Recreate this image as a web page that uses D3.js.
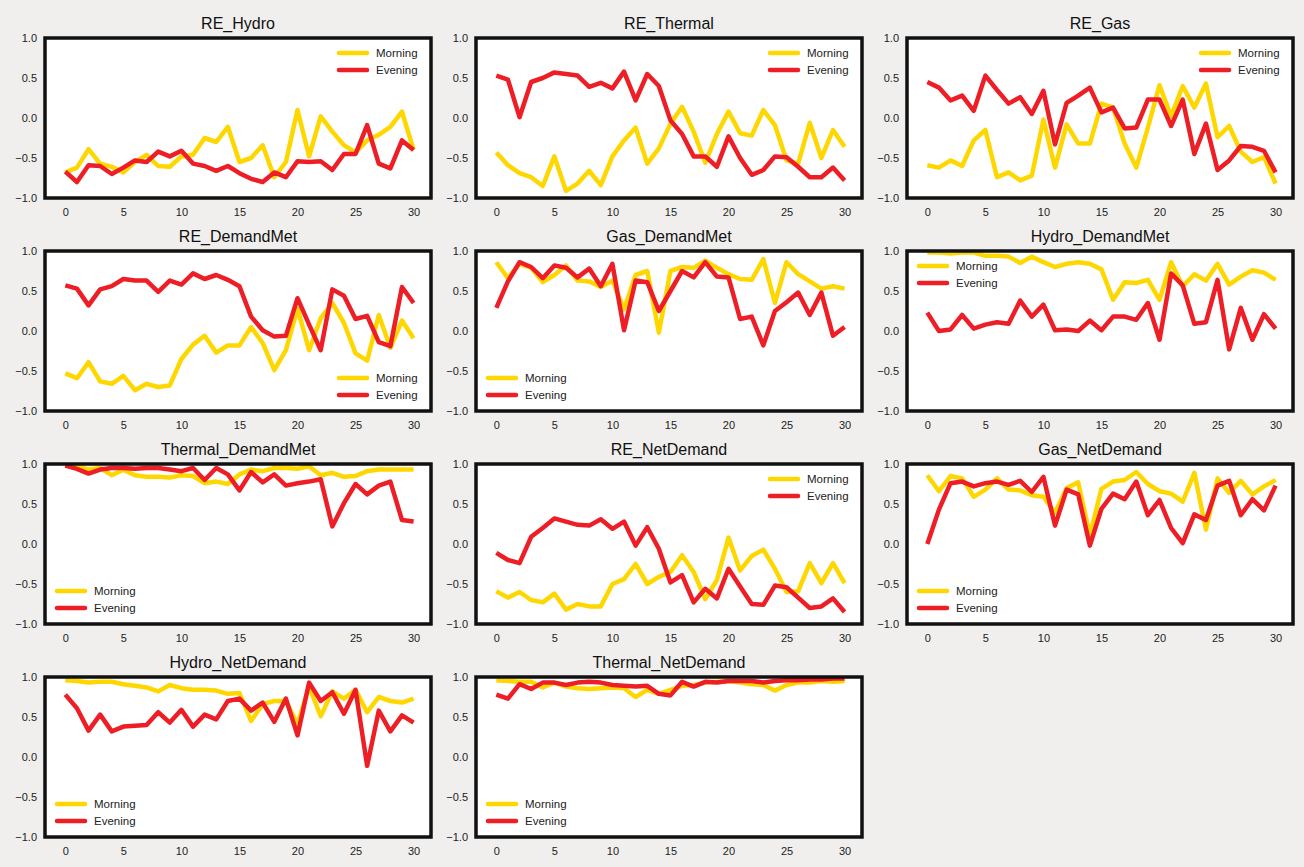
<!DOCTYPE html>
<html>
<head>
<meta charset="utf-8">
<script src="https://cdn.jsdelivr.net/npm/d3@7"></script>
<style>
  body { margin: 0; background: #fff; }
  svg { display: block; }
</style>
</head>
<body>
<svg id="chart" width="1304" height="867"></svg>
<script>
var titles = ['RE_Hydro', 'RE_Thermal', 'RE_Gas', 'RE_DemandMet', 'Gas_DemandMet', 'Hydro_DemandMet',
	'Thermal_DemandMet', 'RE_NetDemand', 'Gas_NetDemand', 'Hydro_NetDemand', 'Thermal_NetDemand'];
var legendPos = ['ur', 'ur', 'ur', 'lr', 'll', 'ul', 'll', 'ur', 'll', 'll', 'll'];
var seriesNames = ['Morning', 'Evening'];
var xTicks = [0, 5, 10, 15, 20, 25, 30];
var yTicks = [-1.0, -0.5, 0.0, 0.5, 1.0];

var morning = [
	[-0.68,-0.62,-0.39,-0.57,-0.61,-0.68,-0.55,-0.46,-0.6,-0.61,-0.48,-0.46,-0.25,-0.3,-0.11,-0.55,-0.5,-0.34,-0.74,-0.55,0.1,-0.48,0.02,-0.17,-0.34,-0.43,-0.28,-0.21,-0.11,0.08,-0.4],
	[-0.43,-0.59,-0.69,-0.74,-0.85,-0.48,-0.91,-0.82,-0.66,-0.84,-0.48,-0.28,-0.12,-0.57,-0.38,-0.07,0.14,-0.17,-0.56,-0.2,0.08,-0.19,-0.22,0.1,-0.09,-0.53,-0.57,-0.06,-0.5,-0.15,-0.36],
	[-0.59,-0.62,-0.53,-0.6,-0.28,-0.15,-0.74,-0.68,-0.78,-0.72,-0.02,-0.62,-0.08,-0.32,-0.32,0.18,0.13,-0.32,-0.62,-0.12,0.41,0.02,0.4,0.13,0.43,-0.24,-0.1,-0.42,-0.55,-0.49,-0.82],
	[-0.53,-0.59,-0.39,-0.63,-0.66,-0.56,-0.74,-0.66,-0.7,-0.68,-0.35,-0.17,-0.06,-0.27,-0.18,-0.18,0.05,-0.15,-0.49,-0.24,0.28,-0.24,0.16,0.35,0.1,-0.28,-0.37,0.2,-0.21,0.13,-0.09],
	[0.86,0.66,0.84,0.79,0.61,0.7,0.82,0.63,0.62,0.55,0.63,0.27,0.7,0.75,-0.02,0.75,0.8,0.79,0.88,0.79,0.71,0.65,0.64,0.9,0.35,0.86,0.71,0.62,0.53,0.56,0.53],
	[0.98,0.98,0.97,0.98,0.98,0.94,0.94,0.93,0.85,0.93,0.86,0.8,0.84,0.86,0.84,0.77,0.39,0.61,0.6,0.64,0.39,0.86,0.56,0.71,0.63,0.84,0.58,0.68,0.76,0.73,0.64],
	[0.98,0.98,0.93,0.95,0.86,0.93,0.86,0.84,0.84,0.83,0.86,0.85,0.76,0.78,0.75,0.87,0.93,0.91,0.95,0.95,0.94,0.97,0.86,0.89,0.84,0.85,0.91,0.93,0.93,0.93,0.93],
	[-0.59,-0.67,-0.6,-0.7,-0.73,-0.62,-0.82,-0.75,-0.78,-0.78,-0.5,-0.44,-0.25,-0.5,-0.41,-0.35,-0.14,-0.35,-0.69,-0.45,0.08,-0.33,-0.15,-0.07,-0.31,-0.6,-0.59,-0.24,-0.49,-0.24,-0.49],
	[0.86,0.66,0.85,0.82,0.59,0.68,0.82,0.68,0.67,0.61,0.59,0.39,0.7,0.77,0.11,0.69,0.78,0.8,0.9,0.75,0.66,0.63,0.53,0.89,0.18,0.82,0.64,0.79,0.62,0.72,0.8],
	[0.96,0.95,0.93,0.94,0.94,0.91,0.89,0.87,0.82,0.9,0.86,0.84,0.84,0.83,0.79,0.8,0.45,0.66,0.7,0.7,0.41,0.88,0.51,0.82,0.73,0.84,0.56,0.75,0.7,0.68,0.73],
	[0.96,0.95,0.94,0.94,0.87,0.93,0.88,0.86,0.85,0.86,0.87,0.86,0.75,0.84,0.79,0.84,0.89,0.9,0.93,0.94,0.95,0.93,0.91,0.9,0.83,0.9,0.93,0.93,0.95,0.94,0.95]
];

var evening = [
	[-0.67,-0.8,-0.59,-0.6,-0.7,-0.62,-0.53,-0.55,-0.42,-0.48,-0.41,-0.57,-0.6,-0.66,-0.6,-0.69,-0.76,-0.8,-0.68,-0.74,-0.54,-0.55,-0.54,-0.65,-0.45,-0.45,-0.09,-0.57,-0.63,-0.28,-0.4],
	[0.53,0.48,0.01,0.45,0.5,0.57,0.55,0.53,0.39,0.44,0.37,0.58,0.22,0.55,0.4,-0.03,-0.2,-0.48,-0.48,-0.61,-0.23,-0.5,-0.71,-0.65,-0.48,-0.49,-0.61,-0.74,-0.74,-0.62,-0.78],
	[0.45,0.38,0.22,0.28,0.09,0.53,0.35,0.18,0.26,0.05,0.34,-0.33,0.19,0.28,0.38,0.07,0.13,-0.13,-0.12,0.23,0.23,-0.1,0.23,-0.45,-0.07,-0.65,-0.53,-0.35,-0.36,-0.41,-0.68],
	[0.57,0.53,0.32,0.52,0.56,0.65,0.63,0.63,0.49,0.63,0.58,0.72,0.65,0.7,0.64,0.56,0.18,0.01,-0.07,-0.06,0.41,0.08,-0.24,0.52,0.44,0.15,0.19,-0.14,-0.19,0.55,0.35],
	[0.29,0.62,0.86,0.8,0.66,0.82,0.79,0.67,0.78,0.56,0.84,0.01,0.63,0.61,0.25,0.5,0.75,0.67,0.86,0.68,0.67,0.15,0.18,-0.18,0.25,0.36,0.48,0.2,0.48,-0.06,0.05],
	[0.23,0.0,0.02,0.2,0.03,0.08,0.11,0.09,0.38,0.18,0.33,0.01,0.02,0.0,0.13,0.01,0.18,0.18,0.14,0.35,-0.11,0.72,0.57,0.09,0.11,0.64,-0.23,0.29,-0.11,0.21,0.03],
	[0.98,0.94,0.88,0.93,0.95,0.95,0.94,0.95,0.95,0.93,0.91,0.95,0.8,0.95,0.87,0.67,0.9,0.77,0.87,0.73,0.76,0.78,0.81,0.22,0.51,0.75,0.62,0.73,0.78,0.3,0.28],
	[-0.11,-0.2,-0.24,0.09,0.2,0.32,0.28,0.24,0.23,0.31,0.19,0.28,-0.02,0.21,-0.06,-0.48,-0.39,-0.73,-0.56,-0.68,-0.31,-0.53,-0.75,-0.76,-0.52,-0.54,-0.67,-0.8,-0.78,-0.68,-0.85],
	[0.0,0.43,0.76,0.78,0.72,0.76,0.78,0.74,0.79,0.65,0.84,0.23,0.68,0.62,-0.02,0.44,0.63,0.56,0.78,0.36,0.55,0.2,0.01,0.37,0.3,0.73,0.79,0.36,0.56,0.42,0.73],
	[0.78,0.61,0.33,0.53,0.32,0.38,0.39,0.4,0.56,0.43,0.59,0.38,0.53,0.47,0.7,0.73,0.58,0.68,0.44,0.73,0.27,0.93,0.7,0.81,0.54,0.84,-0.11,0.58,0.32,0.52,0.43],
	[0.78,0.73,0.91,0.85,0.93,0.93,0.9,0.93,0.94,0.93,0.9,0.89,0.88,0.89,0.79,0.77,0.94,0.88,0.94,0.93,0.95,0.95,0.95,0.93,0.95,0.96,0.96,0.97,0.97,0.98,0.98]
];

var colors = ['#ffd700', '#ee1e26'];

var svg = d3.select('#chart');
svg.append('rect')
	.attr('width', 1304).attr('height', 867)
	.attr('fill', '#f0efed');

var colX = [45, 476, 907];
var rowY = [38, 251, 464, 677];
var pw = 386, ph = 160;

titles.forEach(function(title, i) {
	var px = colX[i % 3], py = rowY[Math.floor(i / 3)];
	var g = svg.append('g').attr('transform', 'translate(' + px + ',' + py + ')');

	var x = d3.scaleLinear().domain([-1.75, 31.5]).range([0, pw]);
	var y = d3.scaleLinear().domain([-1, 1]).range([ph, 0]);

	g.append('rect')
		.attr('width', pw).attr('height', ph)
		.attr('fill', '#fff');

	var xAxis = g.append('g')
		.attr('transform', 'translate(0,' + ph + ')')
		.call(d3.axisBottom(x).tickValues(xTicks).tickSize(0).tickPadding(10));
	var yAxis = g.append('g')
		.call(d3.axisLeft(y).tickValues(yTicks).tickSize(0).tickPadding(8).tickFormat(d3.format('.1f')));
	[xAxis, yAxis].forEach(function(a) {
		a.select('.domain').remove();
		a.selectAll('text')
			.style('font-family', 'Liberation Sans, Arial, sans-serif')
			.style('font-size', '11px')
			.attr('fill', '#222');
	});

	var clip = 'clip' + i;
	g.append('clipPath').attr('id', clip)
		.append('rect').attr('width', pw).attr('height', ph);

	var line = d3.line()
		.x(function(d, j) { return x(j); })
		.y(function(d) { return y(d); });

	[morning[i], evening[i]].forEach(function(vals, s) {
		g.append('path')
			.datum(vals)
			.attr('clip-path', 'url(#' + clip + ')')
			.attr('fill', 'none')
			.attr('stroke', colors[s])
			.attr('stroke-width', 4.5)
			.attr('stroke-linejoin', 'round')
			.attr('d', line);
	});

	g.append('rect')
		.attr('width', pw).attr('height', ph)
		.attr('fill', 'none')
		.attr('stroke', '#111')
		.attr('stroke-width', 3.5);

	g.append('text')
		.attr('x', pw / 2).attr('y', -9)
		.attr('text-anchor', 'middle')
		.style('font-family', 'Liberation Sans, Arial, sans-serif')
		.style('font-size', '16px')
		.attr('fill', '#111')
		.text(title);

	// legend
	var pos = legendPos[i];
	var lx = pos[1] === 'r' ? pw - 92 : 12;
	var ly = pos[0] === 'u' ? 15 : ph - 33;
	seriesNames.forEach(function(name, s) {
		var lg = g.append('g').attr('transform', 'translate(' + lx + ',' + (ly + s * 17) + ')');
		lg.append('line')
			.attr('x1', 0).attr('x2', 28)
			.attr('stroke', colors[s])
			.attr('stroke-width', 4.5)
			.attr('stroke-linecap', 'round');
		lg.append('text')
			.attr('x', 37).attr('y', 4)
			.style('font-family', 'Liberation Sans, Arial, sans-serif')
			.style('font-size', '11.5px')
			.attr('fill', '#222')
			.text(name);
	});
});
</script>
</body>
</html>
